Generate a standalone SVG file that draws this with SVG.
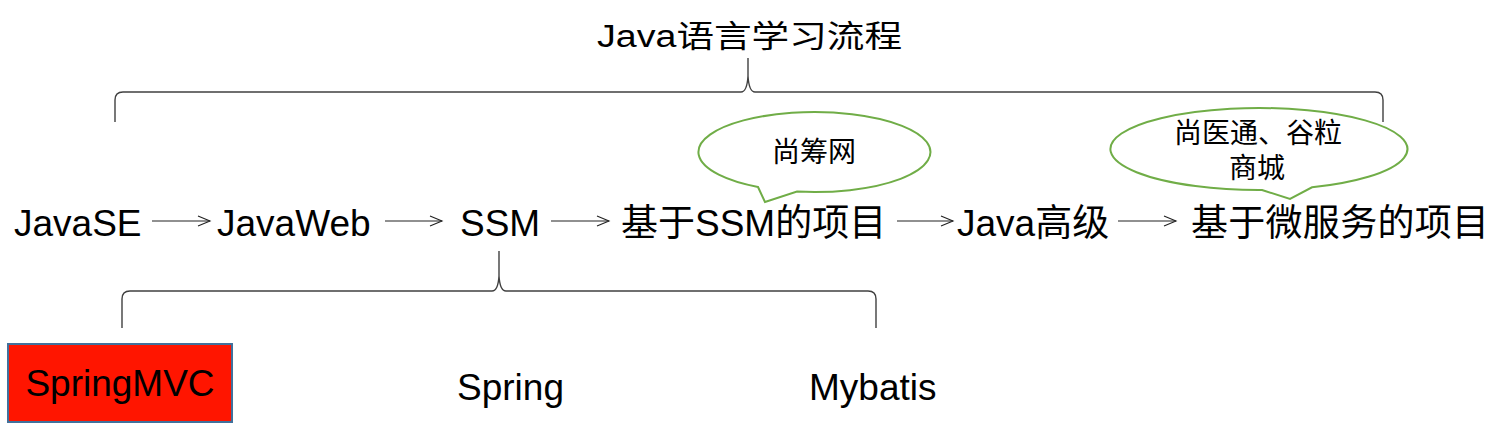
<svg xmlns="http://www.w3.org/2000/svg" width="1495" height="435" viewBox="0 0 1495 435">
<defs>
<marker id="arr" markerUnits="userSpaceOnUse" markerWidth="16" markerHeight="14" refX="13" refY="6" orient="auto" viewBox="0 0 16 14">
<path d="M1,1 L13,6 L1,11" fill="none" stroke="#222" stroke-width="1.1"/>
</marker>
</defs>
<style>
text{font-family:"Liberation Sans","Noto Sans CJK SC",sans-serif;fill:#000}
.main{font-size:37px}
.bub{font-size:28px;text-anchor:middle}
.brace{fill:none;stroke:#404040;stroke-width:1.4}
.conn{stroke:#222;stroke-width:1.1;fill:none}
.bubble{fill:#fff;stroke:#70AD47;stroke-width:2}
</style>
<rect width="1495" height="435" fill="#fff"/>
<g id="title"><text x="597" y="47" font-size="31" textLength="305" lengthAdjust="spacingAndGlyphs">Java语言学习流程</text></g>
<g id="braces">
<path class="brace" d="M115,122 L115,100 Q115,92 123,92 L741,92 Q747,92 748,76 L748,58 M748,76 Q749,92 755,92 L1375,92 Q1383,92 1383,100 L1383,122"/>
<path class="brace" d="M122,328 L122,299 Q122,291 130,291 L492,291 Q498,291 499,276 L499,251 M499,276 Q500,291 506,291 L868,291 Q876,291 876,299 L876,328"/>
</g>
<g id="connectors">
<line class="conn" x1="152" y1="221" x2="210" y2="221" marker-end="url(#arr)"/>
<line class="conn" x1="385" y1="221" x2="442" y2="221" marker-end="url(#arr)"/>
<line class="conn" x1="551" y1="221" x2="609" y2="221" marker-end="url(#arr)"/>
<line class="conn" x1="897" y1="221" x2="953" y2="221" marker-end="url(#arr)"/>
<line class="conn" x1="1118" y1="221" x2="1176" y2="221" marker-end="url(#arr)"/>
</g>
<g id="javase"><text class="main" x="14" y="236">JavaSE</text></g>
<g id="javaweb"><text class="main" x="217" y="236">JavaWeb</text></g>
<g id="ssm"><text class="main" x="460" y="236">SSM</text></g>
<g id="ssm-project"><text class="main" x="621" y="236">基于SSM的项目</text></g>
<g id="java-advanced"><text class="main" x="957" y="236">Java高级</text></g>
<g id="microservice-project"><text class="main" x="1191" y="236" textLength="298">基于微服务的项目</text></g>
<g id="bubble-shangchou">
<path class="bubble" d="M758,187 L765,202 L797,191.6 A116,40 0 1 0 758,187 Z"/>
<text class="bub" x="814" y="162">尚筹网</text>
</g>
<g id="bubble-shangyitong">
<path class="bubble" d="M1262,190 L1290,199 L1312,187.3 A148.5,41 0 1 0 1262,190 Z"/>
<text class="bub" x="1258" y="143">尚医通、谷粒</text>
<text class="bub" x="1257" y="178">商城</text>
</g>
<g id="springmvc">
<rect x="8" y="344" width="224" height="78" fill="#FF1500" stroke="#41719C" stroke-width="2"/>
<text class="main" x="120" y="396" text-anchor="middle">SpringMVC</text>
</g>
<g id="spring"><text class="main" x="457" y="400">Spring</text></g>
<g id="mybatis"><text class="main" x="809" y="400">Mybatis</text></g>
</svg>
